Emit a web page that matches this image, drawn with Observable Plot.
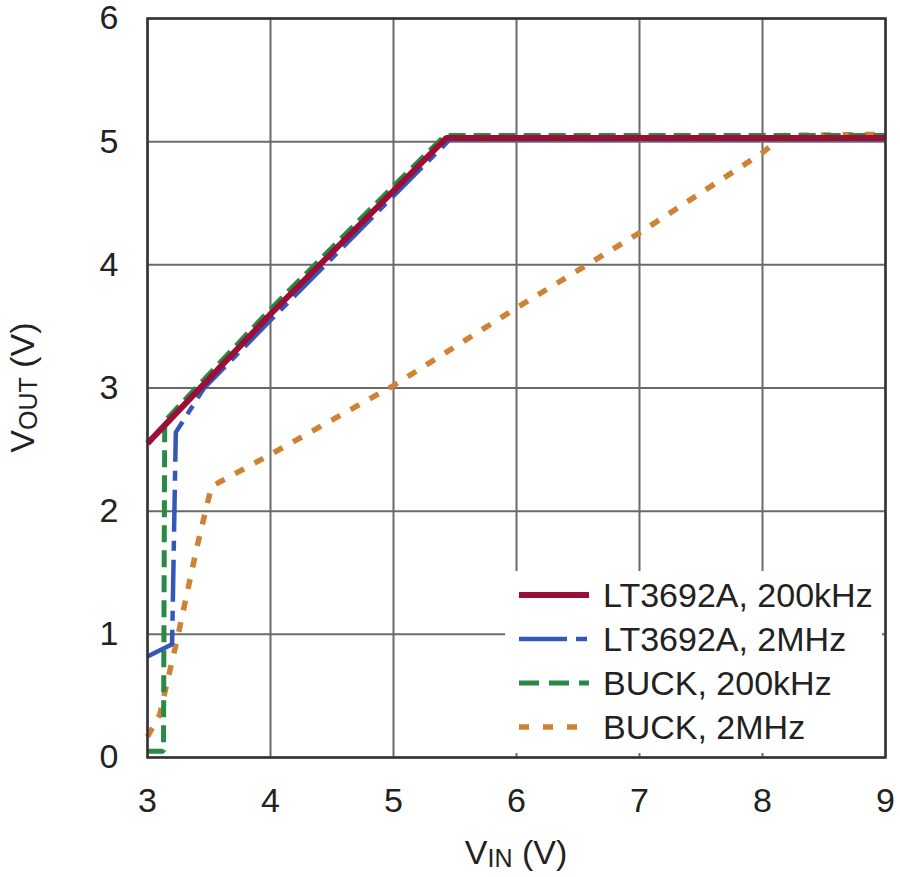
<!DOCTYPE html>
<html>
<head>
<meta charset="utf-8">
<script src="https://cdn.jsdelivr.net/npm/d3@7"></script>
<script src="https://cdn.jsdelivr.net/npm/@observablehq/plot@0.6"></script>
<style>
  html, body { margin: 0; padding: 0; background: #fff; }
  #wrap { position: relative; width: 900px; height: 877px; }
  #legend { position: absolute; left: 505px; top: 571px; width: 377px; height: 182px; background: #fff; }
  .row { position: absolute; left: 0; height: 44px; display: flex; align-items: center; }
  .row svg { margin-left: 14px; }
  .row span { margin-left: 14px; font-size: 34px; color: #222; }
  .f { font-family: "Liberation Sans", Arial, sans-serif; }
</style>
</head>
<body>
<div id="wrap" class="f"></div>
<script>
// ---- data ----
const seriesNames = ["LT3692A, 200kHz", "LT3692A, 2MHz", "BUCK, 200kHz", "BUCK, 2MHz"];
const seriesColors = ["#9b0f36", "#3557b8", "#2a8a45", "#cf8233"];
const seriesDash = [null, "42,9,10,9", "17,8", "10,12"];
const seriesWidth = [6, 4.5, 5, 5.5];

const lt200X = [3, 4, 5, 5.43, 9];
const lt200Y = [2.55, 3.6, 4.6, 5.03, 5.03];

const lt2MX = [3, 3.2, 3.23, 3.46, 4, 5, 5.46, 9];
const lt2MY = [0.82, 0.92, 2.64, 3.0, 3.55, 4.56, 5.02, 5.02];

const buck200X = [3, 3.13, 3.14, 3.3, 4, 5, 5.42, 9];
const buck200Y = [0.05, 0.05, 2.73, 2.9, 3.64, 4.64, 5.05, 5.05];

const buck2MX = [3, 3.1, 3.25, 3.4, 3.52, 4, 5, 6, 7, 8, 8.17, 9];
const buck2MY = [0.17, 0.35, 1.0, 1.7, 2.2, 2.46, 3.02, 3.65, 4.26, 4.91, 5.05, 5.06];

const xTicks = [3, 4, 5, 6, 7, 8, 9];
const yTicks = [0, 1, 2, 3, 4, 5, 6];

const seriesX = [lt200X, lt2MX, buck200X, buck2MX];
const seriesY = [lt200Y, lt2MY, buck200Y, buck2MY];

const fontFam = '"Liberation Sans", Arial, sans-serif';

const lineMarks = seriesX.map((xs, i) =>
  Plot.line(xs.map((x, j) => ({x, y: seriesY[i][j]})), {
    x: "x", y: "y",
    stroke: seriesColors[i],
    strokeWidth: seriesWidth[i],
    strokeDasharray: seriesDash[i],
    strokeLinejoin: "miter",
    strokeLinecap: "butt"
  })
);

const plot = Plot.plot({
  width: 900,
  height: 877,
  marginTop: 18,
  marginBottom: 120,
  marginLeft: 147,
  marginRight: 15,
  style: { fontFamily: fontFam, fontSize: "34px", color: "#222", background: "transparent" },
  x: { domain: [3, 9], ticks: xTicks, label: null, tickFormat: d3.format("d") },
  y: { domain: [0, 6], ticks: yTicks, label: null, tickFormat: d3.format("d") },
  marks: [
    Plot.gridX(xTicks, { stroke: "#6a6a6a", strokeOpacity: 1, strokeWidth: 2 }),
    Plot.gridY(yTicks, { stroke: "#6a6a6a", strokeOpacity: 1, strokeWidth: 2 }),
    Plot.axisX(xTicks, { tickSize: 0, tickPadding: 30, fontSize: 34, label: null, tickFormat: d3.format("d") }),
    Plot.axisY(yTicks, { tickSize: 0, tickPadding: 29, fontSize: 34, label: null, tickFormat: d3.format("d") }),
    ...lineMarks.slice().reverse(),
    Plot.frame({ stroke: "#333", strokeWidth: 2.5 })
  ]
});

document.getElementById("wrap").appendChild(plot);

// axis titles with subscripts
const svg = d3.select(plot);
const xs = plot.scale("x"), ys = plot.scale("y");
const cx = (xs.apply(3) + xs.apply(9)) / 2;
const cy = (ys.apply(0) + ys.apply(6)) / 2;

const xt = svg.append("text")
  .attr("x", cx).attr("y", 864)
  .attr("text-anchor", "middle")
  .attr("font-size", 34).attr("fill", "#222").attr("font-family", fontFam);
xt.append("tspan").text("V");
xt.append("tspan").attr("font-size", 25).attr("dy", 3).text("IN");
xt.append("tspan").attr("dy", -3).text(" (V)");

const yt = svg.append("text")
  .attr("transform", `translate(34,${cy}) rotate(-90)`)
  .attr("text-anchor", "middle")
  .attr("font-size", 34).attr("fill", "#222").attr("font-family", fontFam);
yt.append("tspan").text("V");
yt.append("tspan").attr("font-size", 25).attr("dy", 3).text("OUT");
yt.append("tspan").attr("dy", -3).text(" (V)");

// legend
const legend = document.createElement("div");
legend.id = "legend";
seriesNames.forEach((name, i) => {
  const row = document.createElement("div");
  row.className = "row";
  row.style.top = (2 + i * 44) + "px";
  const s = d3.create("svg").attr("width", 70).attr("height", 12);
  s.append("line").attr("x1", 0).attr("x2", 70).attr("y1", 6).attr("y2", 6)
    .attr("stroke", seriesColors[i]).attr("stroke-width", seriesWidth[i])
    .attr("stroke-dasharray", i === 1 ? "48,9,11,9" : (i === 2 ? "20,10" : (i === 3 ? "10,14" : null)));
  row.appendChild(s.node());
  const t = document.createElement("span");
  t.textContent = name;
  row.appendChild(t);
  legend.appendChild(row);
});
document.getElementById("wrap").appendChild(legend);
</script>
</body>
</html>
